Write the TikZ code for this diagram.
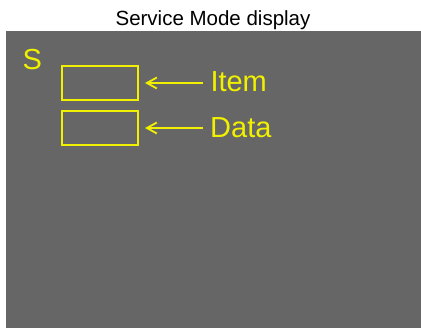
\documentclass[tikz,border=0pt]{standalone}
\usepackage{fontspec}
\setmainfont{Liberation Sans}
\usetikzlibrary{arrows.meta}
\definecolor{screen}{RGB}{102,102,102}
\definecolor{lcd}{RGB}{240,240,0}
\tikzset{
  lcdbox/.style={draw=lcd, line width=2pt, minimum width=76pt, minimum height=34pt, inner sep=0pt},
  lcdtext/.style={text=lcd, inner sep=0pt, font=\fontsize{29}{30}\selectfont},
  pointer/.style={draw=lcd, line width=1.8pt, -{Straight Barb[length=10pt,width=11pt,line width=1.8pt]}},
  titletext/.style={inner sep=0pt, font=\fontsize{20.5}{22}\selectfont}
}
\begin{document}
\begin{tikzpicture}[x=1pt,y=-1pt]
\useasboundingbox (0,0) rectangle (421,328);
\fill[white] (0,0) rectangle (421,328);
\fill[screen] (6,31) rectangle (421,328);
\node[titletext, anchor=base] (title) at (213,26) {Service Mode display};
\node[lcdtext, anchor=base west] (s) at (22.5,69.5) {S};
\node[lcdbox, anchor=north west] (itembox) at (61,65) {};
\node[lcdbox, anchor=north west] (databox) at (61,110) {};
\node[lcdtext, anchor=base west] (item) at (210.3,92) {Item};
\node[lcdtext, anchor=base west] (data) at (210,138) {Data};
\draw[pointer, shorten <=7pt, shorten >=6pt] (itembox.east -| item.west) -- (itembox.east);
\draw[pointer, shorten <=7pt, shorten >=6pt] (databox.east -| data.west) -- (databox.east);
\end{tikzpicture}
\end{document}
